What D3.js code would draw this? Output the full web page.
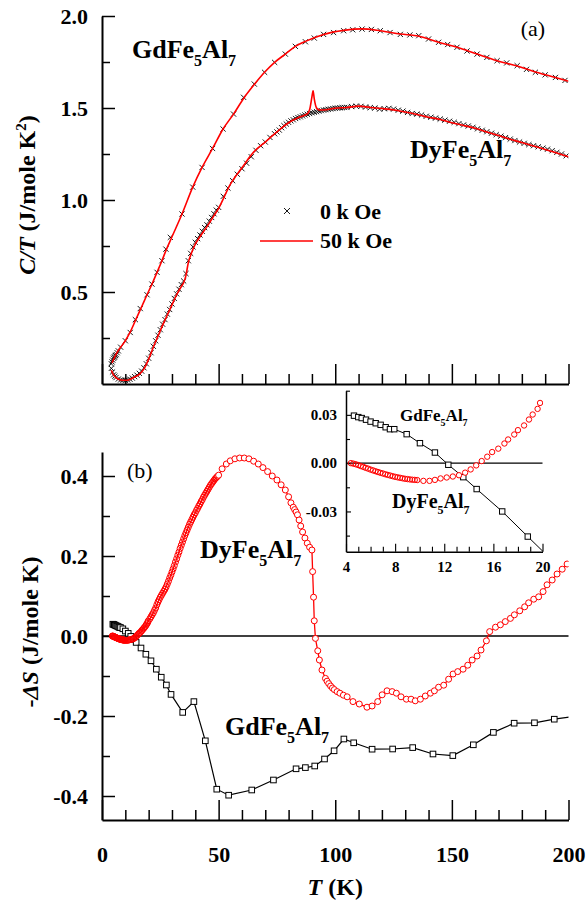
<!DOCTYPE html>
<html>
<head>
<meta charset="utf-8">
<script src="https://cdn.jsdelivr.net/npm/d3@7"></script>
<style>
  body { margin: 0; background: #fff; }
  svg { font-family: "Liberation Serif", "Times New Roman", serif; }
</style>
</head>
<body>
<div id="chart"></div>
<script>
// ---- (a) C/T vs T ----
// GdFe5Al7, 0 kOe (crosses)
const gdT0 = [4.0,4.3,4.6,4.9,5.2,5.5,5.8,6.1,6.5,7.0,8.0,10.0,12.1,14.3,16.4,19.3,21.4,23.6,25.7,27.4,29.3,34.3,38.9,42.9,47.4,51.9,56.4,60.7,65.3,69.7,74.0,78.6,82.9,87.2,91.0,95.0,99.3,103.6,107.5,111.5,115.5,119.3,123.5,127.9,132.0,135.8,140.0,144.3,148.2,152.2,156.5,160.8,165.0,169.4,173.5,178.0,182.0,185.8,190.0,194.4,198.5];
const gdC0 = [0.11,0.12,0.13,0.14,0.145,0.15,0.155,0.16,0.17,0.18,0.2,0.235,0.28,0.35,0.41,0.485,0.543,0.607,0.67,0.733,0.797,0.924,1.07,1.177,1.28,1.386,1.467,1.558,1.63,1.694,1.748,1.793,1.835,1.86,1.88,1.90,1.91,1.92,1.925,1.929,1.927,1.92,1.91,1.90,1.897,1.893,1.875,1.857,1.845,1.83,1.81,1.793,1.775,1.757,1.745,1.73,1.71,1.694,1.68,1.666,1.65];
// GdFe5Al7, 50 kOe (line)
const gdT50 = [4.3,6.4,8,10,12,14.3,17,19.3,21.5,23.6,25.7,27.4,30,34.3,38.9,42.9,47.4,51.9,56.4,60.7,65.3,69.7,74,78.6,82.9,87.2,95,103.6,111.5,119.3,127.9,135.8,144.3,152.2,160.8,169.4,178,185.8,194.4,200];
const gdC50 = [0.115,0.17,0.2,0.235,0.28,0.344,0.42,0.485,0.545,0.607,0.67,0.725,0.8,0.924,1.07,1.177,1.28,1.386,1.467,1.552,1.628,1.694,1.748,1.793,1.835,1.862,1.90,1.922,1.93,1.92,1.902,1.89,1.857,1.83,1.793,1.757,1.728,1.696,1.666,1.645];
// DyFe5Al7, 0 kOe (crosses)
const dyT0 = [4,4.5,5,5.5,6,7,8,9,10,11,12,13,14,15,16,17,18,19,20,21,22,23,24,25,26,27,28,29,30,31,32,33,34,35,36,37,38,39,40,41,42,43,44,45,46,47,48,49,50,
  52,54,56,58,60,62,64,66,68,70,72,74,
  75,76,77,78,79,80,81,82,83,84,85,86,87,88,89,90,91,92,93,94,95,96,97,98,99,100,101,102,103,104,105,
  107,109,111,113,115,117,119,121,123,125,127,129,131,133,135,137,139,141,143,145,147,149,151,153,155,157,159,161,163,165,167,169,171,173,175,177,179,181,183,185,187,189,191,193,195,197,199];
const dyC0 = [0.085,0.065,0.05,0.042,0.035,0.027,0.022,0.02,0.02,0.022,0.026,0.032,0.04,0.048,0.058,0.07,0.088,0.11,0.14,0.17,0.205,0.235,0.265,0.295,0.325,0.35,0.38,0.405,0.435,0.465,0.49,0.515,0.54,0.56,0.6,0.67,0.71,0.745,0.77,0.79,0.81,0.83,0.85,0.865,0.885,0.905,0.925,0.945,0.96,
  1.02,1.065,1.105,1.14,1.17,1.2,1.235,1.27,1.295,1.315,1.34,1.36,
  1.37,1.38,1.393,1.404,1.413,1.422,1.43,1.436,1.443,1.448,1.452,1.457,1.462,1.466,1.47,1.474,1.477,1.48,1.483,1.486,1.489,1.491,1.493,1.495,1.497,1.499,1.5,1.501,1.502,1.503,1.503,
  1.508,1.51,1.509,1.505,1.502,1.5,1.494,1.496,1.498,1.494,1.488,1.483,1.476,1.47,1.467,1.462,1.455,1.45,1.445,1.44,1.434,1.428,1.422,1.415,1.408,1.402,1.395,1.387,1.379,1.371,1.363,1.355,1.347,1.339,1.331,1.323,1.315,1.308,1.301,1.295,1.289,1.282,1.276,1.268,1.259,1.25,1.24];
// DyFe5Al7, 50 kOe (line)
const dyT50 = [4,5,6,8,10,12,14,16,18,20,22,24,26,28,30,32,34,35,36,37,38,40,42,45,48,50,55,60,65,70,75,80,85,88,89,90,90.5,91,92,93,95,100,105,110,115,120,125,130,135,140,145,150,155,160,165,170,175,180,185,190,195,200];
const dyC50 = [0.075,0.048,0.035,0.022,0.02,0.025,0.038,0.052,0.082,0.135,0.2,0.26,0.32,0.375,0.43,0.485,0.53,0.55,0.59,0.66,0.7,0.76,0.8,0.855,0.915,0.955,1.085,1.175,1.26,1.315,1.37,1.42,1.452,1.468,1.49,1.56,1.594,1.55,1.5,1.49,1.489,1.499,1.503,1.51,1.503,1.497,1.49,1.478,1.465,1.45,1.438,1.42,1.405,1.39,1.37,1.35,1.33,1.312,1.293,1.275,1.255,1.235];

// ---- (b) -dS vs T ----
const gdST = [4.65,5.0,5.28,5.63,6.0,6.42,6.82,7.23,7.58,7.93,8.94,10.02,11.24,12.33,13.55,14.64,16.72,18.8,21,23.3,25.4,27.6,29.6,34.6,39.4,44.3,49.2,54.3,64.2,73.5,83.2,87.2,91.2,95.4,99.5,103.7,107.9,115.8,124.6,133.2,141.9,150.4,159.2,167.8,176.7,185.4,193.9,202];
const gdSV = [0.0295,0.0286,0.028,0.027,0.0258,0.0248,0.0238,0.0223,0.0211,0.0211,0.018,0.0124,0.0066,-0.001,-0.0087,-0.0161,-0.03,-0.0456,-0.062,-0.083,-0.103,-0.1225,-0.146,-0.191,-0.164,-0.262,-0.383,-0.398,-0.385,-0.36,-0.332,-0.329,-0.325,-0.3075,-0.287,-0.2575,-0.267,-0.283,-0.2825,-0.279,-0.295,-0.299,-0.272,-0.241,-0.218,-0.217,-0.208,-0.2015];
const dyST = [4.4,4.6,4.8,5.0,5.2,5.4,5.6,5.8,6.0,6.2,6.4,6.6,6.8,7.0,7.2,7.4,7.6,7.8,8.0,8.2,8.4,8.6,8.8,9.0,9.2,9.4,9.6,9.8,
  10.3,10.8,11.24,11.7,12.2,12.7,13.2,13.7,14.15,14.6,15.05,15.5,15.9,16.4,16.9,17.2,17.7,18.0,18.5,18.9,19.2,19.6,19.8,
  20.5,21,21.5,22,22.5,23,23.5,24,24.5,25,25.5,26,26.5,27,27.5,28,28.5,29,29.5,30,30.5,31,31.5,32,32.5,33,33.5,34,34.5,35,35.5,36,36.5,37,37.5,38,38.5,39,39.5,40,40.5,41,41.5,42,42.5,43,43.5,44,44.5,45,45.5,46,46.5,47,47.5,48,48.5,49,49.5,50,
  51.5,53.3,55,57,59,61,63,65,67,69,71,73,75,76.8,78.6,80,81,82,82.6,83.2,83.8,84.5,85.2,86,87,88,89,90.0,90.3,90.7,91.0,91.5,92.5,93.2,94.3,95.8,96.5,97.2,98,98.8,99.6,100.8,102,103.5,105.1,107.6,110.3,113.6,115.8,118.2,120.1,122.2,124.4,126.2,128.2,130.5,132.5,134.3,136.5,138.6,140.8,142.5,144.3,146.5,148.6,150.5,152.5,154.8,156.8,158.7,160.8,162.5,164.8,166.2,168.7,170.8,172.9,175.1,176.8,179.1,181.2,182.9,185.1,187.2,189.1,190.8,193,195.1,197.3,199.4];
const dySV = [0.0,-0.0003,-0.0007,-0.0012,-0.0018,-0.0023,-0.0029,-0.0034,-0.004,-0.0045,-0.005,-0.0055,-0.006,-0.0064,-0.0069,-0.0073,-0.0077,-0.0081,-0.0085,-0.0088,-0.0091,-0.0094,-0.0097,-0.0099,-0.0101,-0.0103,-0.0104,-0.0105,
  -0.011,-0.011,-0.0104,-0.0095,-0.0089,-0.0083,-0.0075,-0.0059,-0.0039,-0.0014,0.0013,0.004,0.0069,0.009,0.0122,0.0147,0.0178,0.0205,0.0234,0.0271,0.0302,0.0337,0.0374,
  0.043,0.048,0.053,0.058,0.064,0.07,0.078,0.085,0.091,0.097,0.102,0.107,0.112,0.117,0.123,0.13,0.137,0.145,0.152,0.16,0.168,0.176,0.185,0.193,0.202,0.21,0.219,0.227,0.235,0.243,0.251,0.258,0.265,0.272,0.279,0.285,0.291,0.297,0.303,0.308,0.314,0.319,0.325,0.33,0.336,0.341,0.347,0.352,0.357,0.362,0.367,0.372,0.377,0.381,0.385,0.389,0.393,0.396,0.399,0.402,
  0.418,0.43,0.438,0.443,0.445,0.445,0.443,0.437,0.43,0.421,0.411,0.4,0.39,0.378,0.365,0.348,0.333,0.322,0.316,0.31,0.303,0.29,0.275,0.26,0.245,0.232,0.222,0.215,0.161,0.097,0.038,-0.006,-0.037,-0.06,-0.085,-0.106,-0.113,-0.119,-0.125,-0.13,-0.134,-0.139,-0.143,-0.148,-0.152,-0.164,-0.17,-0.178,-0.175,-0.164,-0.147,-0.137,-0.139,-0.143,-0.152,-0.158,-0.158,-0.162,-0.158,-0.15,-0.143,-0.137,-0.128,-0.123,-0.108,-0.095,-0.089,-0.083,-0.073,-0.06,-0.05,-0.035,-0.012,0.011,0.022,0.028,0.036,0.044,0.053,0.063,0.073,0.083,0.092,0.098,0.111,0.128,0.14,0.155,0.167,0.18];

// tick values
const xMajor = [0, 50, 100, 150, 200];
const xMinor = [10,20,30,40,60,70,80,90,110,120,130,140,160,170,180,190];
const yTopMajor = [0.5, 1.0, 1.5, 2.0];
const yTopMinor = [0.25, 0.75, 1.25, 1.75];
const yBotMajor = [-0.4, -0.2, 0.0, 0.2, 0.4];
const yBotMinor = [-0.3, -0.1, 0.1, 0.3];
const inXMajor = [4, 8, 12, 16, 20];
const inXMinor = [5,6,7,9,10,11,13,14,15,17,18,19];
const inYMajor = [-0.03, 0.00, 0.03];
const inYMinor = [-0.045, -0.015, 0.015, 0.045];

const zip = (a, b) => a.map((t, i) => ({ t: t, v: b[i] }));

const W = 586, H = 904;
const svg = d3.select("#chart").append("svg")
    .attr("width", W)
    .attr("height", H);

// scales
const x = d3.scaleLinear().domain([0, 200]).range([102, 568.5]);
const yTop = d3.scaleLinear().domain([0, 2]).range([384, 16]);
const yBot = d3.scaleLinear().domain([-0.46, 0.46]).range([820, 452]);
const xIn = d3.scaleLinear().domain([4, 20]).range([346, 542.5]);
const yIn = d3.scaleLinear().domain([-0.055, 0.045]).range([551.7, 390.7]);

// clip paths
const defs = svg.append("defs");
defs.append("clipPath").attr("id", "clipTop").append("rect")
    .attr("x", 102).attr("y", 0).attr("width", 466.5).attr("height", 384);
defs.append("clipPath").attr("id", "clipBot").append("rect")
    .attr("x", 102).attr("y", 452).attr("width", 466.5).attr("height", 368);
defs.append("clipPath").attr("id", "clipIn").append("rect")
    .attr("x", 346).attr("y", 390).attr("width", 197).attr("height", 162);

function styleAxis(g, w) {
    g.select(".domain").attr("stroke", "#000").attr("stroke-width", w);
    g.selectAll(".tick line").attr("stroke", "#000").attr("stroke-width", w * 0.75);
    g.selectAll("text").attr("fill", "#000");
}

// draws major + minor ticks, ticks pointing inward
function drawAxis(gen, scale, pos, major, minor, lenMaj, lenMin, fmt, pad, fs, w) {
    const g = svg.append("g").attr("transform", pos);
    g.call(gen(scale).tickValues(major).tickSize(-lenMaj).tickSizeOuter(0)
        .tickPadding(pad).tickFormat(fmt));
    g.selectAll("text").style("font-size", fs + "px").style("font-weight", "bold")
        .style("font-family", "'Liberation Serif', 'Times New Roman', serif");
    const g2 = svg.append("g").attr("transform", pos);
    g2.call(gen(scale).tickValues(minor).tickSize(-lenMin).tickSizeOuter(0).tickFormat(""));
    g2.select(".domain").remove();
    styleAxis(g, w);
    styleAxis(g2, w);
}

const crossPath = s => `M${-s},${-s}L${s},${s}M${-s},${s}L${s},${-s}`;

// ===== top panel =====
drawAxis(d3.axisLeft, yTop, "translate(102,0)", yTopMajor, yTopMinor, 13, 8,
    d => d.toFixed(1), 14, 22, 2);
drawAxis(d3.axisBottom, x, "translate(0,384)", xMajor, xMinor, 20, 10, () => "", 0, 22, 2);

const topG = svg.append("g").attr("clip-path", "url(#clipTop)");

[zip(gdT0, gdC0), zip(dyT0, dyC0)].forEach(set => {
    topG.append("g").selectAll("path")
        .data(set)
        .enter()
        .append("path")
        .attr("d", crossPath(2.6))
        .attr("transform", d => `translate(${x(d.t)},${yTop(d.v)})`)
        .attr("stroke", "#000")
        .attr("stroke-width", 0.9)
        .attr("fill", "none");
});

const lineTop = d3.line().x(d => x(d.t)).y(d => yTop(d.v)).curve(d3.curveMonotoneX);
[zip(gdT50, gdC50), zip(dyT50, dyC50)].forEach(set => {
    topG.append("path")
        .datum(set)
        .attr("d", lineTop)
        .attr("fill", "none")
        .attr("stroke", "#ff0000")
        .attr("stroke-width", 1.6);
});

// ===== bottom panel =====
drawAxis(d3.axisLeft, yBot, "translate(102,0)", yBotMajor, yBotMinor, 13, 8,
    d => d.toFixed(1), 14, 22, 2);
drawAxis(d3.axisBottom, x, "translate(0,820)", xMajor, xMinor, 20, 10,
    d => d, 26, 22, 2);

svg.append("line")
    .attr("x1", x(0)).attr("x2", x(200))
    .attr("y1", yBot(0)).attr("y2", yBot(0))
    .attr("stroke", "#000").attr("stroke-width", 1.5);

const botG = svg.append("g").attr("clip-path", "url(#clipBot)");
const lineBot = d3.line().x(d => x(d.t)).y(d => yBot(d.v));

const gdS = zip(gdST, gdSV);
const dyS = zip(dyST, dySV);

botG.append("path").datum(gdS).attr("d", lineBot)
    .attr("fill", "none").attr("stroke", "#000").attr("stroke-width", 1.2);
botG.append("g").selectAll("rect")
    .data(gdS)
    .enter()
    .append("rect")
    .attr("x", d => x(d.t) - 2.8)
    .attr("y", d => yBot(d.v) - 2.8)
    .attr("width", 5.6).attr("height", 5.6)
    .attr("fill", "#fff").attr("stroke", "#000").attr("stroke-width", 1);

// densely measured points (below 50 K) overlap into a solid band
const ringFill = d => d.t < 50 ? "none" : "#fff";

botG.append("path").datum(dyS).attr("d", lineBot)
    .attr("fill", "none").attr("stroke", "#ff0000").attr("stroke-width", 1.3);
botG.append("g").selectAll("circle")
    .data(dyS)
    .enter()
    .append("circle")
    .attr("cx", d => x(d.t))
    .attr("cy", d => yBot(d.v))
    .attr("r", 3)
    .attr("fill", ringFill).attr("stroke", "#ff0000").attr("stroke-width", 1);

// ===== inset =====
drawAxis(d3.axisLeft, yIn, "translate(346,0)", inYMajor, inYMinor, 5, 4,
    d => d.toFixed(2), 9, 15, 1.5);
drawAxis(d3.axisBottom, xIn, "translate(0,551.7)", inXMajor, inXMinor, 8, 5,
    d => d, 10, 15, 1.5);

svg.append("line")
    .attr("x1", xIn(4)).attr("x2", xIn(20))
    .attr("y1", yIn(0)).attr("y2", yIn(0))
    .attr("stroke", "#000").attr("stroke-width", 1.2);

const insG = svg.append("g").attr("clip-path", "url(#clipIn)");
const lineIn = d3.line().x(d => xIn(d.t)).y(d => yIn(d.v));
const gdIn = gdS.filter(d => d.t <= 21);
const dyIn = dyS.filter(d => d.t <= 21);

insG.append("path").datum(gdIn).attr("d", lineIn)
    .attr("fill", "none").attr("stroke", "#000").attr("stroke-width", 1);
insG.append("g").selectAll("rect")
    .data(gdIn)
    .enter()
    .append("rect")
    .attr("x", d => xIn(d.t) - 2.7)
    .attr("y", d => yIn(d.v) - 2.7)
    .attr("width", 5.4).attr("height", 5.4)
    .attr("fill", "#fff").attr("stroke", "#000").attr("stroke-width", 1);
insG.append("g").selectAll("circle")
    .data(dyIn)
    .enter()
    .append("circle")
    .attr("cx", d => xIn(d.t))
    .attr("cy", d => yIn(d.v))
    .attr("r", 2.7)
    .attr("fill", d => d.t < 10 ? "none" : "#fff")
    .attr("stroke", "#ff0000").attr("stroke-width", 1);

// ===== text =====
function formula(x0, y0, size, head) {
    const sub = Math.round(size * 0.6), sh = Math.round(size * 0.3);
    const t = svg.append("text").attr("x", x0).attr("y", y0)
        .style("font-size", size + "px").style("font-weight", "bold");
    t.append("tspan").text(head + "Fe");
    t.append("tspan").attr("dy", sh).style("font-size", sub + "px").text("5");
    t.append("tspan").attr("dy", -sh).text("Al");
    t.append("tspan").attr("dy", sh).style("font-size", sub + "px").text("7");
}

formula(132, 58, 26, "Gd");
formula(410, 158, 26, "Dy");
formula(200, 558, 26, "Dy");
formula(225, 735, 26, "Gd");
formula(400, 421, 17, "Gd");
formula(392, 508, 20, "Dy");

svg.append("text").attr("x", 533).attr("y", 36).attr("text-anchor", "middle")
    .style("font-size", "22px").text("(a)");
svg.append("text").attr("x", 127).attr("y", 478)
    .style("font-size", "22px").text("(b)");

// legend
svg.append("path")
    .attr("d", crossPath(3))
    .attr("transform", "translate(287,211)")
    .attr("stroke", "#000").attr("stroke-width", 0.9).attr("fill", "none");
svg.append("line")
    .attr("x1", 260).attr("x2", 313).attr("y1", 241).attr("y2", 241)
    .attr("stroke", "#ff0000").attr("stroke-width", 1.6);
svg.append("text").attr("x", 320).attr("y", 219)
    .style("font-size", "22px").style("font-weight", "bold").text("0 k Oe");
svg.append("text").attr("x", 320).attr("y", 248)
    .style("font-size", "22px").style("font-weight", "bold").text("50 k Oe");

// axis titles
const yl1 = svg.append("text")
    .attr("transform", "translate(35,195) rotate(-90)")
    .attr("text-anchor", "middle")
    .style("font-size", "24px").style("font-weight", "bold");
yl1.append("tspan").style("font-style", "italic").text("C/T");
yl1.append("tspan").text(" (J/mole K");
yl1.append("tspan").attr("dy", -9).style("font-size", "15px").text("2");
yl1.append("tspan").attr("dy", 9).text(")");

const yl2 = svg.append("text")
    .attr("transform", "translate(38,632) rotate(-90)")
    .attr("text-anchor", "middle")
    .style("font-size", "24px").style("font-weight", "bold");
yl2.append("tspan").text("-");
yl2.append("tspan").style("font-style", "italic").text("ΔS");
yl2.append("tspan").text(" (J/mole K)");

const xl = svg.append("text")
    .attr("x", x(100)).attr("y", 895)
    .attr("text-anchor", "middle")
    .style("font-size", "24px").style("font-weight", "bold");
xl.append("tspan").style("font-style", "italic").text("T");
xl.append("tspan").text(" (K)");
</script>
</body>
</html>
